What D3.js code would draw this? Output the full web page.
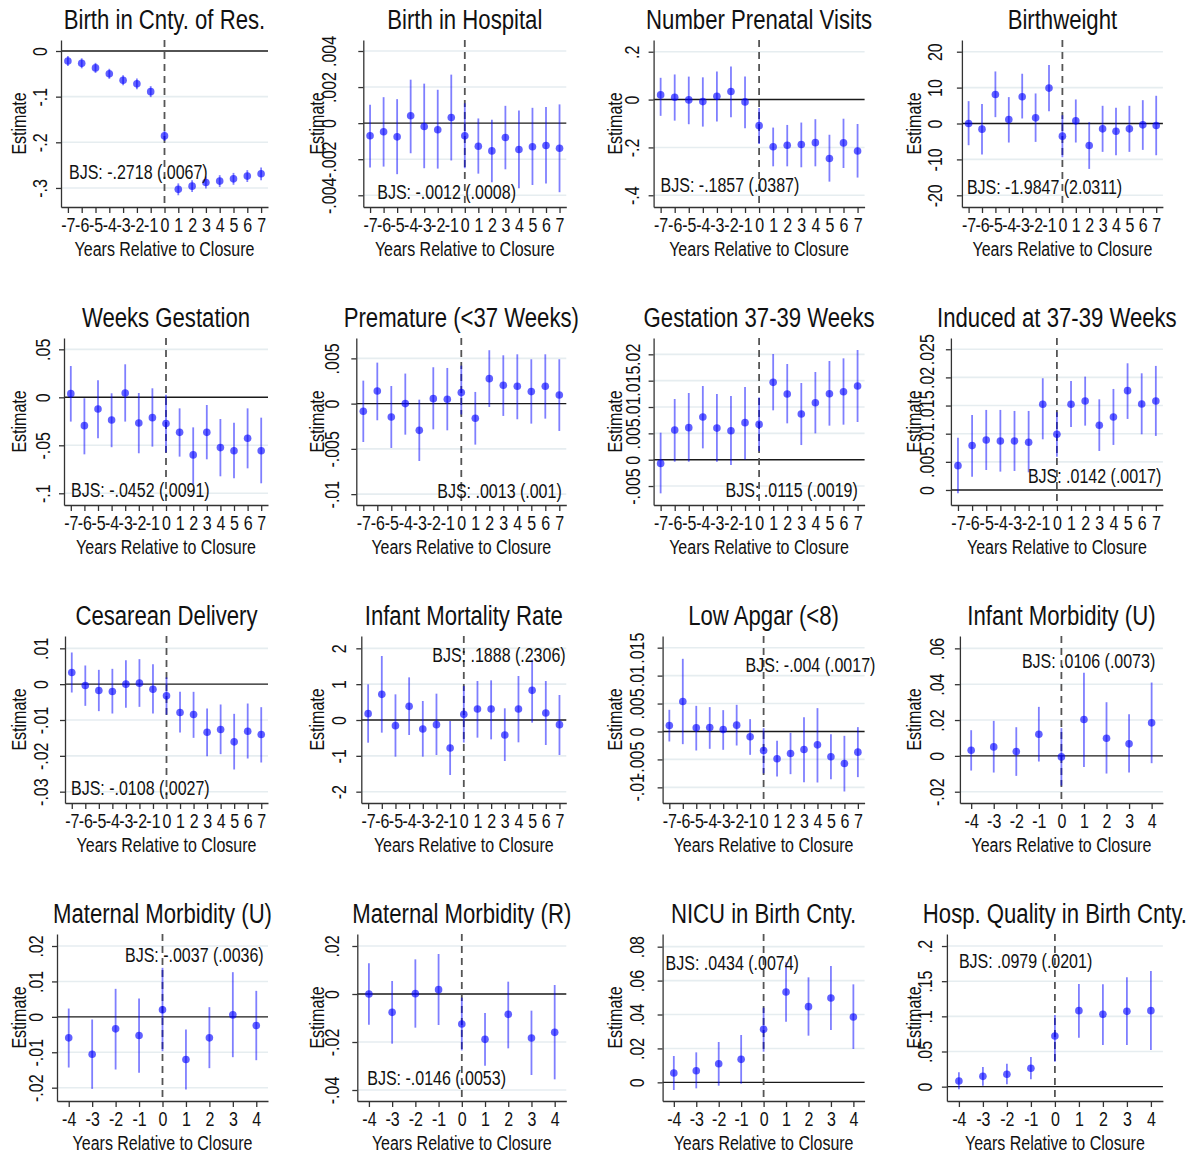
<!DOCTYPE html>
<html>
<head>
<meta charset="utf-8">
<script src="https://cdn.jsdelivr.net/npm/d3@7/dist/d3.min.js"></script>
<style>
body { margin: 0; background: #fff; }
text { font-family: "Liberation Sans", Arial, sans-serif; fill: #111; }
</style>
</head>
<body>
<div id="chart"></div>
<script>
// panel titles and the BJS note printed in each one
var titles = ["Birth in Cnty. of Res.", "Birth in Hospital", "Number Prenatal Visits", "Birthweight",
    "Weeks Gestation", "Premature (<37 Weeks)", "Gestation 37-39 Weeks", "Induced at 37-39 Weeks",
    "Cesarean Delivery", "Infant Mortality Rate", "Low Apgar (<8)", "Infant Morbidity (U)",
    "Maternal Morbidity (U)", "Maternal Morbidity (R)", "NICU in Birth Cnty.", "Hosp. Quality in Birth Cnty."];

var bjsNotes = ["BJS: -.2718 (.0067)", "BJS: -.0012 (.0008)", "BJS: -.1857 (.0387)", "BJS: -1.9847 (2.0311)",
    "BJS: -.0452 (.0091)", "BJS: .0013 (.001)", "BJS: .0115 (.0019)", "BJS: .0142 (.0017)",
    "BJS: -.0108 (.0027)", "BJS: .1888 (.2306)", "BJS: -.004 (.0017)", "BJS: .0106 (.0073)",
    "BJS: -.0037 (.0036)", "BJS: -.0146 (.0053)", "BJS: .0434 (.0074)", "BJS: .0979 (.0201)"];

var yearsLong = [-7, -6, -5, -4, -3, -2, -1, 0, 1, 2, 3, 4, 5, 6, 7];
var yearsShort = [-4, -3, -2, -1, 0, 1, 2, 3, 4];

// point estimates
var estimates = [
    [-0.022, -0.027, -0.037, -0.050, -0.064, -0.072, -0.089, -0.186, -0.303, -0.296, -0.288, -0.285, -0.280, -0.274, -0.269],
    [-0.0007, -0.00048, -0.00076, 0.00041, -0.00019, -0.00037, 0.00031, -0.0007, -0.00128, -0.00154, -0.0008, -0.00146, -0.00131, -0.00124, -0.00139],
    [0.0195, 0.0098, -0.0014, -0.0084, 0.014, 0.0335, -0.0098, -0.109, -0.197, -0.191, -0.188, -0.18, -0.246, -0.181, -0.215],
    [0, -1.58, 8.09, 1.12, 7.44, 1.58, 9.86, -3.53, 0.74, -6.14, -1.49, -2.14, -1.49, -0.37, -0.56],
    [0.0038, -0.0295, -0.0122, -0.0236, 0.0045, -0.0267, -0.0212, -0.0274, -0.0365, -0.060, -0.0365, -0.0524, -0.0556, -0.0427, -0.0556],
    [-0.00085, 0.0014, -0.00147, 0, -0.00295, 0.00055, 0.00048, 0.00122, -0.00162, 0.00276, 0.00203, 0.00192, 0.00133, 0.00192, 0.00096],
    [-0.0007, 0.00563, 0.00608, 0.0081, 0.006, 0.0055, 0.00703, 0.0067, 0.01468, 0.01247, 0.00867, 0.01082, 0.01253, 0.01291, 0.01399],
    [0.00432, 0.00788, 0.00889, 0.00871, 0.00871, 0.00847, 0.01523, 0.00989, 0.01523, 0.01582, 0.01149, 0.01297, 0.01765, 0.01528, 0.01582],
    [0.00326, -0.00037, -0.00177, -0.00205, 0, 0.00028, -0.0014, -0.00326, -0.00791, -0.00847, -0.0134, -0.01265, -0.01609, -0.01312, -0.01405],
    [0.177, 0.716, -0.158, 0.381, -0.251, -0.13, -0.781, 0.158, 0.307, 0.307, -0.419, 0.307, 0.828, 0.195, -0.13],
    [0.00107, 0.00537, 0.00066, 0.00072, 0.00036, 0.00113, -0.00095, -0.0034, -0.00489, -0.00394, -0.00322, -0.00239, -0.00453, -0.00573, -0.0037],
    [0.00316, 0.00502, 0.00242, 0.01209, -0.00056, 0.02028, 0.00986, 0.0067, 0.01842],
    [-0.00593, -0.01054, -0.00339, -0.00527, 0.00198, -0.01205, -0.00593, 0.00056, -0.00245],
    [0, -0.00764, 0.00014, 0.00181, -0.0125, -0.01889, -0.00847, -0.01833, -0.01597],
    [0.0055, 0.00688, 0.011, 0.01356, 0.03125, 0.05327, 0.04462, 0.04973, 0.03853],
    [0.00806, 0.01469, 0.01754, 0.02607, 0.07204, 0.10806, 0.10284, 0.10711, 0.10806]
];

// lower ends of the confidence intervals
var ciLow = [
    [-0.033, -0.038, -0.048, -0.061, -0.075, -0.084, -0.101, -0.197, -0.316, -0.309, -0.301, -0.298, -0.293, -0.287, -0.283],
    [-0.00246, -0.00241, -0.00283, -0.00167, -0.0025, -0.00252, -0.00207, -0.0025, -0.0028, -0.00328, -0.00256, -0.00361, -0.00343, -0.00335, -0.00383],
    [-0.068, -0.088, -0.103, -0.113, -0.092, -0.074, -0.12, -0.186, -0.279, -0.279, -0.283, -0.279, -0.343, -0.286, -0.326],
    [-6.05, -8.65, 1.77, -5.3, 1.4, -5.12, 3.44, -9.4, -5.3, -12.65, -7.9, -8.84, -7.9, -7.35, -8.84],
    [-0.0253, -0.0594, -0.0427, -0.052, -0.0253, -0.0583, -0.0514, -0.0574, -0.0618, -0.0903, -0.0646, -0.0823, -0.0844, -0.074, -0.0896],
    [-0.00424, -0.00184, -0.0049, -0.00343, -0.00634, -0.00284, -0.00295, -0.0012, -0.00453, -0.00037, -0.00136, -0.00173, -0.00221, -0.00166, -0.00302],
    [-0.00639, -0.00038, -0.00038, 0.00215, -0.00038, -0.00101, 0.00006, 0.0016, 0.00937, 0.0069, 0.00278, 0.005, 0.00646, 0.00665, 0.00715],
    [-0.0006, 0.00237, 0.00355, 0.00326, 0.00338, 0.00314, 0.009, 0.0059, 0.0112, 0.01143, 0.00693, 0.008, 0.01262, 0.00989, 0.0096],
    [-0.00233, -0.00605, -0.00753, -0.00819, -0.0066, -0.00633, -0.00819, -0.0085, -0.01349, -0.01498, -0.02009, -0.01953, -0.02381, -0.02074, -0.02186],
    [-0.633, -0.353, -1.023, -0.419, -1.023, -0.977, -1.535, -0.63, -0.493, -0.54, -1.144, -0.623, -0.074, -0.698, -0.977],
    [-0.00179, -0.00227, -0.0034, -0.0031, -0.00328, -0.00251, -0.00418, -0.0075, -0.00805, -0.00764, -0.00907, -0.00913, -0.00853, -0.01074, -0.00817],
    [-0.00819, -0.0093, -0.01116, -0.00316, -0.0166, -0.00614, -0.00986, -0.0093, -0.00409],
    [-0.01431, -0.02033, -0.01487, -0.01581, -0.0097, -0.02052, -0.01449, -0.01139, -0.01224],
    [-0.01278, -0.0207, -0.01403, -0.01292, -0.0235, -0.02986, -0.02264, -0.03375, -0.03556],
    [-0.00452, -0.00354, -0.00197, -0.00079, 0.01808, 0.03577, 0.02752, 0.03086, 0.01966],
    [-0.00379, 0.00142, 0.00332, 0.01043, 0.0355, 0.06967, 0.05924, 0.05924, 0.05213]
];

// upper ends of the confidence intervals
var ciHigh = [
    [-0.011, -0.016, -0.026, -0.039, -0.053, -0.060, -0.077, -0.175, -0.290, -0.283, -0.275, -0.272, -0.267, -0.261, -0.255],
    [0.00102, 0.00144, 0.00133, 0.00241, 0.00219, 0.00185, 0.00269, 0.0011, 0.00026, 0.00019, 0.00096, 0.0007, 0.00085, 0.00089, 0.00104],
    [0.091, 0.105, 0.096, 0.093, 0.117, 0.138, 0.096, -0.035, -0.117, -0.106, -0.096, -0.082, -0.147, -0.08, -0.102],
    [6.23, 5.4, 14.5, 7.35, 13.86, 8.37, 16.3, 2.3, 6.7, 0.37, 4.93, 4.37, 4.93, 6.5, 7.72],
    [0.0326, -0.001, 0.0177, 0.0042, 0.0344, 0.0045, 0.0094, 0.0026, -0.0115, -0.0313, -0.008, -0.0226, -0.0264, -0.0115, -0.0212],
    [0.00254, 0.00453, 0.00195, 0.00332, 0.00044, 0.00402, 0.00394, 0.0042, 0.00129, 0.0059, 0.00534, 0.00545, 0.0049, 0.00545, 0.0049],
    [0.00513, 0.01152, 0.01266, 0.01399, 0.01247, 0.01209, 0.0138, 0.0118, 0.02006, 0.01816, 0.01456, 0.01665, 0.01873, 0.01924, 0.02082],
    [0.0093, 0.01333, 0.01422, 0.01422, 0.01404, 0.01404, 0.01985, 0.0138, 0.01937, 0.02014, 0.01611, 0.01795, 0.02251, 0.02073, 0.02204],
    [0.00884, 0.00521, 0.004, 0.00428, 0.0067, 0.00698, 0.00558, 0.0019, -0.00214, -0.00214, -0.00679, -0.00567, -0.00828, -0.0054, -0.00642],
    [0.995, 1.786, 0.716, 1.19, 0.53, 0.735, -0.028, 0.95, 1.088, 1.107, 0.326, 1.228, 1.68, 1.088, 0.698],
    [0.00388, 0.01301, 0.00459, 0.00436, 0.00382, 0.00477, 0.00221, 0.0006, -0.00167, -0.00024, 0.00257, 0.00418, -0.00048, -0.00078, 0.00078],
    [0.01433, 0.01953, 0.016, 0.02735, 0.0155, 0.04633, 0.02995, 0.02326, 0.04093],
    [0.00235, -0.00075, 0.00791, 0.00518, 0.01384, -0.00358, 0.00273, 0.01261, 0.00734],
    [0.01278, 0.00542, 0.01444, 0.01667, -0.0015, -0.00792, 0.00514, -0.00694, 0.00375],
    [0.01553, 0.01769, 0.02378, 0.02791, 0.04403, 0.0708, 0.06192, 0.0686, 0.05779],
    [0.02038, 0.02796, 0.0327, 0.04218, 0.1019, 0.14597, 0.1455, 0.15545, 0.16445]
];

// y tick labels of each panel
var yTicks = [
    [0, -0.1, -0.2, -0.3],
    [0.004, 0.002, 0, -0.002, -0.004],
    [0.2, 0, -0.2, -0.4],
    [20, 10, 0, -10, -20],
    [0.05, 0, -0.05, -0.1],
    [0.005, 0, -0.005, -0.01],
    [0.02, 0.015, 0.01, 0.005, 0, -0.005],
    [0.025, 0.02, 0.015, 0.01, 0.005, 0],
    [0.01, 0, -0.01, -0.02, -0.03],
    [2, 1, 0, -1, -2],
    [0.015, 0.01, 0.005, 0, -0.005, -0.01],
    [0.06, 0.04, 0.02, 0, -0.02],
    [0.02, 0.01, 0, -0.01, -0.02],
    [0.02, 0, -0.02, -0.04],
    [0.08, 0.06, 0.04, 0.02, 0],
    [0.2, 0.15, 0.1, 0.05, 0]
];

// y range of each plot region
var yRanges = [
    [-0.3417, 0.0241], [-0.00465, 0.00461], [-0.449, 0.249], [-23.26, 23.26],
    [-0.1122, 0.0618], [-0.0112, 0.00725], [-0.0086, 0.0231], [-0.00267, 0.027],
    [-0.03316, 0.01344], [-2.316, 2.344], [-0.0128, 0.01709], [-0.0263, 0.0669],
    [-0.02376, 0.02339], [-0.04458, 0.025], [-0.011, 0.08747], [-0.0204, 0.2171]
];

// layout: y-axis offset, y-label offset, note position (all from panel corner)
var axisOffset = [61, 65, 57, 67, 64, 58, 57, 56, 65, 63, 66, 65, 57, 59, 66, 52];
var labelOffset = [40, 31, 36, 40, 43, 34, 37, 32, 41, 41, 41, 42, 36, 34, 41, 30];
var notePos = [[69, 172], [79, 192], [64, 185], [72, 187], [71, 192], [139, 193], [129, 192], [133, 178],
    [71, 192], [134, 59], [149, 69], [127, 65], [125, 61], [69, 184], [69, 69], [64, 67]];

var colW = 298.3, rowH = 298;
var narrow = 0.82;   // no condensed face installed, so squeeze the glyphs

var svg = d3.select('#chart').append('svg')
    .attr('width', 1193)
    .attr('height', 1152);

function stataFmt(v) {
    if (v === 0) return "0";
    return String(+v.toFixed(6)).replace(/^(-?)0\./, "$1.");
}

function drawPanel(i) {
    var col = i % 4, row = Math.floor(i / 4);
    var ox = col * colW, oy = row * rowH;
    var years = estimates[i].length === 15 ? yearsLong : yearsShort;

    var left = ox + axisOffset[i], right = ox + 268,
        top = oy + 40, bottom = oy + 207;

    var x = d3.scaleLinear()
        .domain([years[0] - 0.5, years[years.length - 1] + 0.5])
        .range([left, right]);
    var y = d3.scaleLinear()
        .domain(yRanges[i])
        .range([bottom, top]);

    var g = svg.append('g').attr('class', 'panel');

    // grid
    g.selectAll('.grid')
        .data(yTicks[i].filter(function(t) { return t !== 0; }))
        .enter().append('line')
        .attr('class', 'grid')
        .attr('x1', left).attr('x2', right)
        .attr('y1', function(d) { return y(d); })
        .attr('y2', function(d) { return y(d); })
        .attr('stroke', '#e6edf0')
        .attr('stroke-width', 1.6);

    // zero line and closure line
    g.append('line')
        .attr('x1', left).attr('x2', right)
        .attr('y1', y(0)).attr('y2', y(0))
        .attr('stroke', '#1a1a1a')
        .attr('stroke-width', 1.4);

    g.append('line')
        .attr('x1', x(0)).attr('x2', x(0))
        .attr('y1', top).attr('y2', bottom)
        .attr('stroke', '#555')
        .attr('stroke-width', 1.8)
        .attr('stroke-dasharray', '7,5');

    // axes
    var yAxis = d3.axisLeft(y)
        .tickValues(yTicks[i])
        .tickSize(5)
        .tickSizeOuter(0)
        .tickFormat(stataFmt);
    var yg = g.append('g')
        .attr('class', 'y-axis')
        .attr('transform', 'translate(' + left + ',0)')
        .call(yAxis);
    yg.selectAll('text')
        .attr('x', 0).attr('y', 0)
        .attr('dy', '0.35em')
        .attr('transform', 'translate(' + (labelOffset[i] - axisOffset[i]) + ',0) rotate(-90)')
        .style('text-anchor', 'middle');

    var xAxis = d3.axisBottom(x)
        .tickValues(years)
        .tickSize(6)
        .tickSizeOuter(0)
        .tickFormat(function(d) { return String(d); });
    var xg = g.append('g')
        .attr('class', 'x-axis')
        .attr('transform', 'translate(0,' + bottom + ')')
        .call(xAxis);
    xg.selectAll('text').attr('y', 11);

    g.selectAll('.y-axis, .x-axis')
        .attr('font-family', null)
        .attr('font-size', null);
    g.selectAll('.domain, .tick line')
        .attr('stroke', '#333')
        .attr('stroke-width', 1.3);
    g.selectAll('.tick text')
        .style('font-size', '19.5px')
        .style('fill', '#111');

    // confidence intervals and estimates
    var pts = years.map(function(yr, k) {
        return { year: yr, est: estimates[i][k], lo: ciLow[i][k], hi: ciHigh[i][k] };
    });

    g.selectAll('.ci')
        .data(pts)
        .enter().append('line')
        .attr('class', 'ci')
        .attr('x1', function(d) { return x(d.year); })
        .attr('x2', function(d) { return x(d.year); })
        .attr('y1', function(d) { return y(d.lo); })
        .attr('y2', function(d) { return y(d.hi); })
        .attr('stroke', '#0000ff')
        .attr('stroke-opacity', 0.5)
        .attr('stroke-width', 1.8);

    g.selectAll('.pt')
        .data(pts)
        .enter().append('circle')
        .attr('class', 'pt')
        .attr('cx', function(d) { return x(d.year); })
        .attr('cy', function(d) { return y(d.est); })
        .attr('r', 3.8)
        .attr('fill', '#0000ff')
        .attr('fill-opacity', 0.62);

    // texts
    g.append('text')
        .attr('x', (left + right) / 2)
        .attr('y', oy + 29)
        .style('text-anchor', 'middle')
        .style('font-size', '27px')
        .text(titles[i]);

    g.append('text')
        .attr('transform', 'translate(' + (ox + 19) + ',' + ((top + bottom) / 2) + ') rotate(-90)')
        .attr('dy', '0.35em')
        .style('text-anchor', 'middle')
        .style('font-size', '19.5px')
        .text('Estimate');

    g.append('text')
        .attr('x', (left + right) / 2)
        .attr('y', oy + 256)
        .style('text-anchor', 'middle')
        .style('font-size', '19.5px')
        .text('Years Relative to Closure');

    g.append('text')
        .attr('x', ox + notePos[i][0])
        .attr('y', oy + notePos[i][1])
        .attr('dy', '0.35em')
        .style('font-size', '19.5px')
        .text(bjsNotes[i]);
}

for (var i = 0; i < titles.length; i++) {
    drawPanel(i);
}

svg.selectAll('text').each(function() {
    var len = this.getComputedTextLength();
    d3.select(this)
        .attr('textLength', len * narrow)
        .attr('lengthAdjust', 'spacingAndGlyphs');
});
</script>
</body>
</html>
